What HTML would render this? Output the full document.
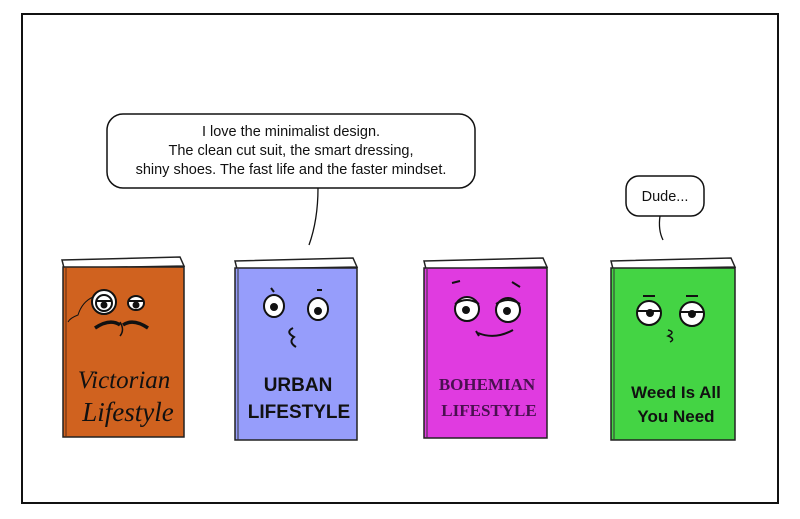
<!DOCTYPE html>
<html><head><meta charset="utf-8"><style>
html,body{margin:0;padding:0;background:#fff;}
svg{display:block}
</style></head><body>
<svg width="800" height="519" viewBox="0 0 800 519" xmlns="http://www.w3.org/2000/svg" font-family="Liberation Sans, sans-serif">
<rect x="0" y="0" width="800" height="519" fill="#fff"/>
<rect x="22" y="14" width="756" height="489" fill="none" stroke="#111" stroke-width="2"/>

<rect x="107" y="114" width="368" height="74" rx="16" fill="#fff" stroke="#111" stroke-width="1.5"/>
<path d="M318 188 Q318 220 309 245" fill="none" stroke="#111" stroke-width="1.3"/>
<g font-size="14.5" text-anchor="middle" fill="#111">
<text x="291" y="136">I love the minimalist design.</text>
<text x="291" y="155">The clean cut suit, the smart dressing,</text>
<text x="291" y="174">shiny shoes. The fast life and the faster mindset.</text>
</g>
<rect x="626" y="176" width="78" height="40" rx="13" fill="#fff" stroke="#111" stroke-width="1.5"/>
<path d="M660 216 Q658 230 663 240" fill="none" stroke="#111" stroke-width="1.3"/>
<text x="665" y="201" font-size="14.5" text-anchor="middle" fill="#111">Dude...</text>

<g stroke="#222" stroke-width="1.5">
<path d="M62 260 L180 257 L184 266 L64 268 Z" fill="#fff"/>
<rect x="63" y="267" width="121" height="170" fill="#d0621f"/>
<line x1="66" y1="268" x2="66" y2="437" stroke="#5a2a10" stroke-width="1"/>
<path d="M235 261 L353 258 L357 267 L237 269 Z" fill="#fff"/>
<rect x="235" y="268" width="122" height="172" fill="#969dfb"/>
<line x1="238" y1="269" x2="238" y2="440" stroke="#333" stroke-width="1"/>
<path d="M424 261 L543 258 L547 267 L426 269 Z" fill="#fff"/>
<rect x="424" y="268" width="123" height="170" fill="#e03be0"/>
<line x1="427" y1="269" x2="427" y2="438" stroke="#333" stroke-width="1"/>
<path d="M611 261 L731 258 L735 267 L613 269 Z" fill="#fff"/>
<rect x="611" y="268" width="124" height="172" fill="#44d444"/>
<line x1="614" y1="269" x2="614" y2="440" stroke="#333" stroke-width="1"/>
</g>

<g stroke="#111" stroke-width="2" fill="#fff">
<circle cx="104" cy="302" r="12"/><circle cx="104" cy="303" r="8"/>
<circle cx="104" cy="305" r="2.5" fill="#111"/>
<ellipse cx="136" cy="303" rx="8" ry="7"/>
<circle cx="136" cy="305" r="2.5" fill="#111"/>
<path d="M97 301 L111 301 M129 301 L143 301" />
<path d="M93 297 Q82 302 78 315 Q70 318 68 322" fill="none" stroke-width="1"/>
<path d="M95 328 Q110 318 120 325 M123 325 Q133 318 148 328" fill="none" stroke-width="3.5"/>
<path d="M120 322 Q125 330 120 336" fill="none" stroke-width="1.5"/>
<ellipse cx="274" cy="306" rx="10" ry="11"/><circle cx="274" cy="307" r="3" fill="#111"/>
<ellipse cx="318" cy="309" rx="10" ry="11"/><circle cx="318" cy="311" r="3" fill="#111"/>
<path d="M271 288 L274 292 M317 290 L322 290" fill="none"/>
<path d="M293 328 Q285 332 294 337 Q288 342 296 347" fill="none"/>
<ellipse cx="467" cy="309" rx="12" ry="12"/><circle cx="466" cy="310" r="3" fill="#111"/>
<ellipse cx="508" cy="310" rx="12" ry="12"/><circle cx="507" cy="311" r="3" fill="#111"/>
<path d="M455 304 Q467 296 479 304 M496 304 Q508 296 520 304" fill="none"/>
<path d="M452 283 L460 281 M512 282 L520 287" fill="none"/>
<path d="M478 333 Q495 340 513 330 M476 331 L479 336" fill="none"/>
<ellipse cx="649" cy="313" rx="12" ry="12"/><ellipse cx="692" cy="314" rx="12" ry="12"/>
<path d="M637 311 L661 311 M680 312 L704 312" fill="none"/>
<circle cx="650" cy="313" r="3" fill="#111"/><circle cx="692" cy="314" r="3" fill="#111"/>
<path d="M643 296 L655 296 M686 296 L698 296" fill="none"/>
<path d="M668 330 Q676 332 668 336 Q676 339 670 342" fill="none" stroke-width="1.5"/>
</g>

<g fill="#111" text-anchor="middle">
<text x="124" y="388" font-family="Liberation Serif, serif" font-style="italic" font-size="25">Victorian</text>
<text x="128" y="421" font-family="Liberation Serif, serif" font-style="italic" font-size="27">Lifestyle</text>
<text x="298" y="391" font-size="19" font-weight="bold">URBAN</text>
<text x="299" y="418" font-size="19" font-weight="bold">LIFESTYLE</text>
<text x="487" y="390" font-family="Liberation Serif, serif" font-weight="bold" font-size="17" fill="#4a1050">BOHEMIAN</text>
<text x="489" y="416" font-family="Liberation Serif, serif" font-weight="bold" font-size="17" fill="#4a1050">LIFESTYLE</text>
<text x="676" y="398" font-size="17" font-weight="bold">Weed Is All</text>
<text x="676" y="422" font-size="17" font-weight="bold">You Need</text>
</g>
</svg>
</body></html>
